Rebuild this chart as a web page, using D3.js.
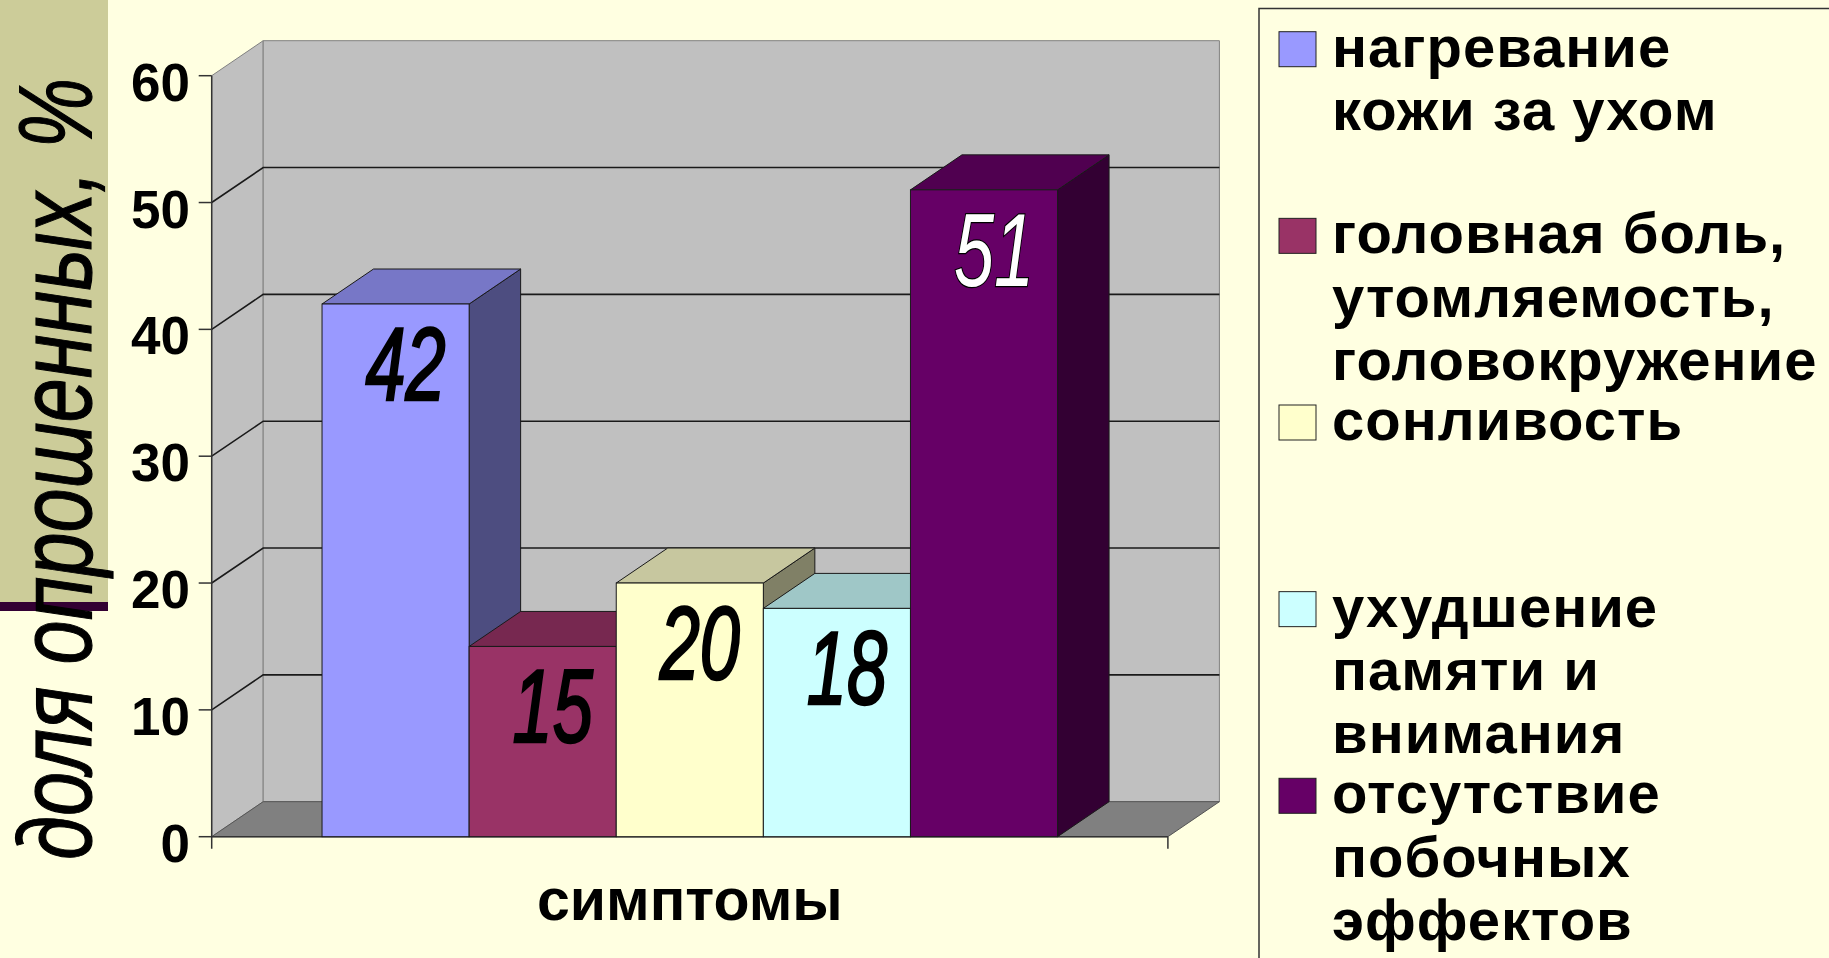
<!DOCTYPE html>
<html><head><meta charset="utf-8">
<script src="https://cdn.jsdelivr.net/npm/d3@7"></script>
<style>
html,body{margin:0;padding:0;background:#FFFFE1;overflow:hidden;}
svg{display:block;}
</style></head>
<body>
<svg id="chart" width="1829" height="958"></svg>
<script>
// ---- data ----
const categories = ["нагревание кожи за ухом", "головная боль, утомляемость, головокружение", "сонливость", "ухудшение памяти и внимания", "отсутствие побочных эффектов"];
const values = [42, 15, 20, 18, 51];
const legendLines = [["нагревание", "кожи за ухом"], ["головная боль,", "утомляемость,", "головокружение"], ["сонливость"], ["ухудшение", "памяти и", "внимания"], ["отсутствие", "побочных", "эффектов"]];
const colors = ["#9999FF", "#993366", "#FFFFCC", "#CCFFFF", "#660066"];
const yTicks = [0, 10, 20, 30, 40, 50, 60];
const yTitle = "доля опрошенных, %";
const xTitle = "симптомы";

// ---- layout ----
const svg = d3.select("#chart");
const W = 1829, H = 958;
const DX = 51.5, DY = -35;
const x0 = 211.7, x1 = 1167.9;
const y = d3.scaleLinear().domain([0, 60]).range([836.7, 75.7]);
const x = d3.scaleBand().domain(categories).range([x0, x1]).paddingInner(0).paddingOuter(0.75);
const FONT = "'Liberation Sans', Arial, sans-serif";

svg.append("rect").attr("width", W).attr("height", H).attr("fill", "#FFFFE1");

// left decorative panel
svg.append("rect").attr("x", 0).attr("y", 0).attr("width", 108).attr("height", 602).attr("fill", "#CCCC99");
svg.append("rect").attr("x", 0).attr("y", 602).attr("width", 108).attr("height", 9).attr("fill", "#330033");

const pts = a => a.map(p => p.join(",")).join(" ");
const yTop = y(d3.max(yTicks)), yBot = y(0);

// walls
svg.append("polygon").attr("points", pts([[x0, yBot], [x0, yTop], [x0 + DX, yTop + DY], [x0 + DX, yBot + DY]]))
  .attr("fill", "#C0C0C0").attr("stroke", "#808080").attr("stroke-width", 1);
svg.append("polygon").attr("points", pts([[x0 + DX, yTop + DY], [x1 + DX, yTop + DY], [x1 + DX, yBot + DY], [x0 + DX, yBot + DY]]))
  .attr("fill", "#C0C0C0").attr("stroke", "#808080").attr("stroke-width", 1);
// floor
svg.append("polygon").attr("points", pts([[x0, yBot], [x1, yBot], [x1 + DX, yBot + DY], [x0 + DX, yBot + DY]]))
  .attr("fill", "#808080").attr("stroke", "#555").attr("stroke-width", 1);

// gridlines
const grid = yTicks.filter(t => t > 0 && t < d3.max(yTicks));
svg.append("g").selectAll("path").data(grid).enter().append("path")
  .attr("d", t => `M${x0},${y(t)}L${x0 + DX},${y(t) + DY}L${x1 + DX},${y(t) + DY}`)
  .attr("fill", "none").attr("stroke", "#1a1a1a").attr("stroke-width", 1.6);

// axes
svg.append("line").attr("x1", x0).attr("x2", x0).attr("y1", yTop).attr("y2", yBot + 12).attr("stroke", "#333").attr("stroke-width", 1.5);
svg.append("line").attr("x1", x0).attr("x2", x1).attr("y1", yBot).attr("y2", yBot).attr("stroke", "#333").attr("stroke-width", 1.5);
svg.append("line").attr("x1", x1).attr("x2", x1).attr("y1", yBot).attr("y2", yBot + 12).attr("stroke", "#333").attr("stroke-width", 1.5);
const yg = svg.append("g");
yg.selectAll("line").data(yTicks).enter().append("line")
  .attr("x1", x0 - 13).attr("x2", x0).attr("y1", d => y(d)).attr("y2", d => y(d))
  .attr("stroke", "#333").attr("stroke-width", 1.5);
yg.selectAll("text").data(yTicks).enter().append("text")
  .attr("x", 190).attr("y", d => y(d) + 25).attr("text-anchor", "end")
  .attr("font-family", FONT).attr("font-weight", "bold").attr("font-size", 53).attr("fill", "#000")
  .text(d => d);

// bars
const bars = svg.append("g");
categories.forEach((c, i) => {
  const v = values[i];
  const bx = x(c), bw = x.bandwidth(), ty = y(v), by = y(0);
  const col = d3.color(colors[i]);
  const top = d3.rgb(col.r * 0.78, col.g * 0.78, col.b * 0.78);
  const side = d3.rgb(col.r * 0.5, col.g * 0.5, col.b * 0.5);
  const g = bars.append("g");
  g.append("polygon").attr("points", pts([[bx + bw, by], [bx + bw, ty], [bx + bw + DX, ty + DY], [bx + bw + DX, by + DY]]))
    .attr("fill", side).attr("stroke", "#1a1a1a").attr("stroke-width", 1);
  g.append("polygon").attr("points", pts([[bx, ty], [bx + DX, ty + DY], [bx + bw + DX, ty + DY], [bx + bw, ty]]))
    .attr("fill", top).attr("stroke", "#1a1a1a").attr("stroke-width", 1);
  g.append("rect").attr("x", bx).attr("y", ty).attr("width", bw).attr("height", by - ty)
    .attr("fill", col).attr("stroke", "#1a1a1a").attr("stroke-width", 1);
});

// value labels
const lab = svg.append("g");
categories.forEach((c, i) => {
  const cx = x(c) + x.bandwidth() / 2 + 10;
  const by = y(values[i]) + 96;
  const white = i === 4;
  lab.append("text")
    .attr("transform", `translate(${cx},${by}) scale(0.7,1)`)
    .attr("text-anchor", "middle")
    .attr("font-family", FONT).attr("font-style", "italic").attr("font-size", 103)
    .attr("fill", white ? "#fff" : "#000")
    .attr("stroke", "#000").attr("stroke-width", white ? 2.5 : 2.6)
    .attr("paint-order", "stroke")
    .text(values[i]);
});

// axis titles
svg.append("text").attr("x", (x0 + x1) / 2).attr("y", 920).attr("text-anchor", "middle")
  .attr("font-family", FONT).attr("font-weight", "bold").attr("font-size", 59).attr("fill", "#000")
  .text(xTitle);
svg.append("text").attr("transform", "translate(91,469) rotate(-90)")
  .attr("text-anchor", "middle").attr("font-family", FONT).attr("font-style", "italic").attr("font-size", 103)
  .attr("textLength", 782).attr("lengthAdjust", "spacingAndGlyphs").attr("fill", "#000")
  .attr("stroke", "#000").attr("stroke-width", 1.2)
  .text(yTitle);

// legend
svg.append("rect").attr("x", 1259).attr("y", 8.5).attr("width", 700).attr("height", 1000)
  .attr("fill", "#FFFFE1").attr("stroke", "#333").attr("stroke-width", 1.5);
const leg = svg.append("g");
categories.forEach((c, i) => {
  const base = 66.7 + i * 186.65;
  leg.append("rect").attr("x", 1279).attr("y", base - 35).attr("width", 37).attr("height", 35)
    .attr("fill", colors[i]).attr("stroke", "#222").attr("stroke-width", 1);
  legendLines[i].forEach((ln, j) => {
    leg.append("text").attr("x", 1332).attr("y", base + j * 63.3)
      .attr("font-family", FONT).attr("font-weight", "bold").attr("font-size", 58).attr("fill", "#000")
      .attr("letter-spacing", 1)
      .text(ln);
  });
});
</script>
</body></html>
